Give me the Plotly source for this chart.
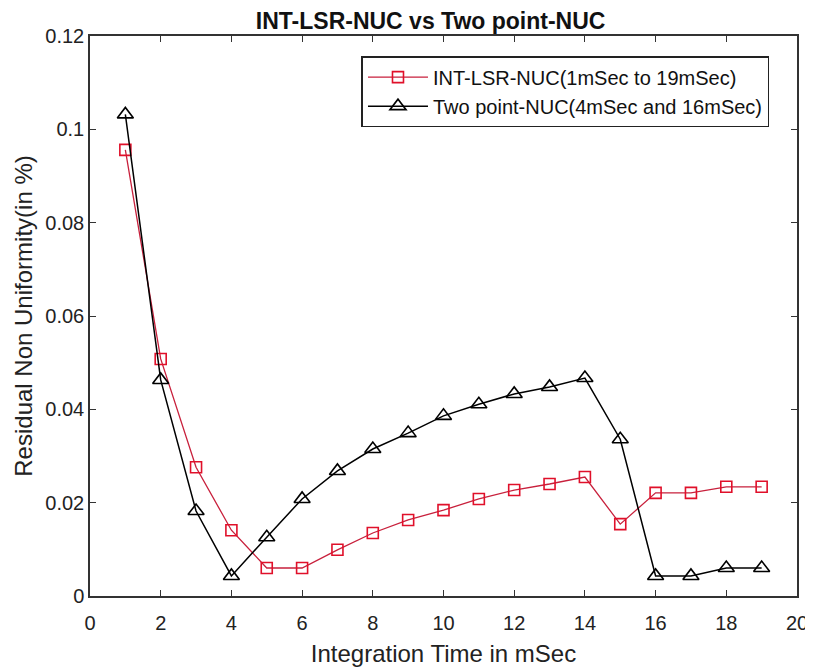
import plotly.graph_objects as go

x_vals = list(range(1, 20))
int_lsr_nuc = [0.0956, 0.0508, 0.0276, 0.0141, 0.0060, 0.0060, 0.0099, 0.0135, 0.0163,
               0.0184, 0.0208, 0.0227, 0.0240, 0.0255, 0.0154, 0.0221, 0.0221, 0.0234, 0.0234]
two_point_nuc = [0.1032, 0.0463, 0.0182, 0.0043, 0.0126, 0.0208, 0.0268, 0.0315, 0.0349,
                 0.0386, 0.0411, 0.0433, 0.0448, 0.0467, 0.0336, 0.0043, 0.0043, 0.0060, 0.0060]
x_ticks = [0, 2, 4, 6, 8, 10, 12, 14, 16, 18, 20]
y_ticks = [0, 0.02, 0.04, 0.06, 0.08, 0.1, 0.12]
y_tick_text = ["0", "0.02", "0.04", "0.06", "0.08", "0.1", "0.12"]

FONT = "Liberation Sans, Arial, sans-serif"

fig = go.Figure()
fig.add_trace(go.Scatter(
    x=x_vals, y=int_lsr_nuc, mode="lines+markers",
    name="INT-LSR-NUC(1mSec to 19mSec)",
    line=dict(color="#c8203c", width=1.3),
    marker=dict(symbol="square-open", size=11, color="#e0102a", line=dict(width=1.6)),
))
fig.add_trace(go.Scatter(
    x=x_vals, y=two_point_nuc, mode="lines+markers",
    name="Two point-NUC(4mSec and 16mSec)",
    line=dict(color="black", width=1.5),
    marker=dict(symbol="triangle-up-open", size=14, color="black", line=dict(width=1.6)),
))

axis_common = dict(
    showgrid=False, zeroline=False, showline=True, linecolor="#333333", linewidth=1.5,
    mirror="ticks", ticks="inside", ticklen=6, tickcolor="#333333",
    tickfont=dict(family=FONT, size=20, color="#222222"),
    automargin=False,
)

fig.update_layout(
    width=805, height=662,
    paper_bgcolor="white", plot_bgcolor="white",
    margin=dict(l=82, r=16, t=28, b=74),
    title=dict(text="<b>INT-LSR-NUC vs Two point-NUC</b>", x=0.525, xanchor="center",
               y=0.992, yanchor="top",
               font=dict(family=FONT, size=23, color="#111111")),
    xaxis=dict(range=[0, 20], tickvals=x_ticks, ticklabelstandoff=8,
               title=dict(text="Integration Time in mSec", standoff=12,
                          font=dict(family=FONT, size=24, color="#222222")),
               **axis_common),
    yaxis=dict(range=[0, 0.12], tickvals=y_ticks, ticktext=y_tick_text,
               title=dict(text="Residual Non Uniformity(in %)", standoff=6,
                          font=dict(family=FONT, size=24, color="#222222")),
               **axis_common),
    legend=dict(x=0.384, y=0.964, xanchor="left", yanchor="top",
                bgcolor="white", bordercolor="#222222", borderwidth=1.5,
                font=dict(family=FONT, size=20, color="#111111"),
                tracegroupgap=0, itemwidth=60),
    showlegend=True,
)

fig.write_html("out.html")
